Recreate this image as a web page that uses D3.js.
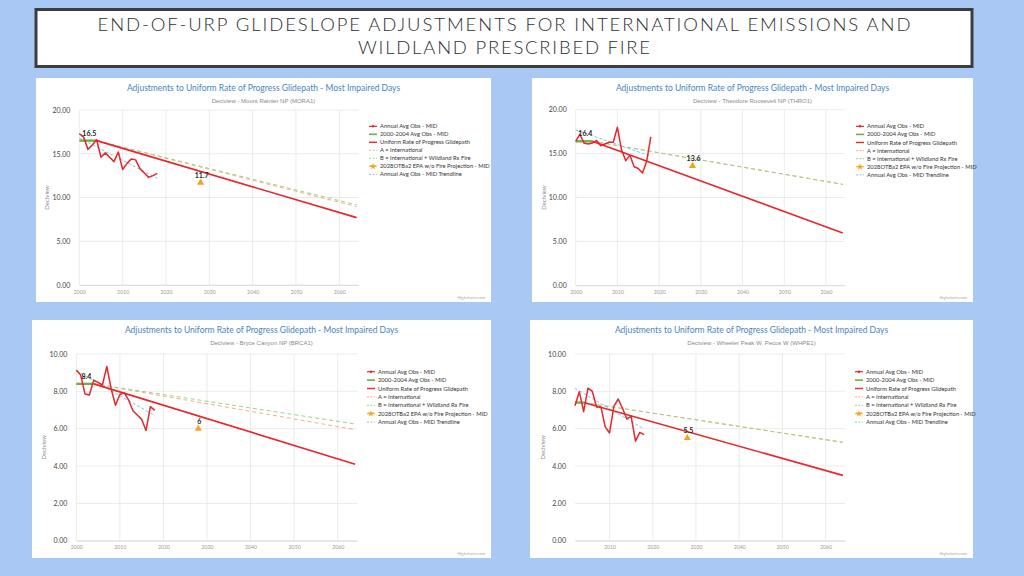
<!DOCTYPE html>
<html><head><meta charset="utf-8">
<script src="https://cdn.jsdelivr.net/npm/d3@7"></script>
<style>html,body{margin:0;padding:0;background:#aac8f4;} svg{display:block}</style>
</head><body>
<svg id="c" width="1024" height="576"></svg>
<script>
// ---------- DATA ----------
const titleLines = ["END-OF-URP GLIDESLOPE ADJUSTMENTS FOR INTERNATIONAL EMISSIONS AND", "WILDLAND PRESCRIBED FIRE"];
const chartTitle = "Adjustments to Uniform Rate of Progress Glidepath - Most Impaired Days";
const subtitles = ["Deciview - Mount Rainier NP (MORA1)", "Deciview - Theodore Roosevelt NP (THRO1)", "Deciview - Bryce Canyon NP (BRCA1)", "Deciview - Wheeler Peak W. Pecos W (WHPE1)"];
const legendLabels = ["Annual Avg Obs - MID", "2000-2004 Avg Obs - MID", "Uniform Rate of Progress Glidepath", "A = International", "B = International + Wildland Rx Fire", "2028OTBa2 EPA w/o Fire Projection - MID", "Annual Avg Obs - MID Trendline"];
const yAxisTitle = "Deciview";
const creditText = "Highcharts.com";

const obsYears  = [2000,2001,2002,2003,2004,2005,2006,2007,2008,2009,2010,2011,2012,2013,2014,2015,2016,2017,2018];
const whpeYears = [2002,2003,2004,2005,2006,2007,2008,2009,2010,2011,2012,2013,2014,2015,2016,2017,2018];
const moraObs = [17.3,16.9,15.5,16.0,16.6,14.6,15.1,14.6,14.1,15.2,13.2,13.9,14.4,14.3,13.3,12.8,12.3,12.5,12.75];
const throObs = [16.4,17.2,16.2,16.1,16.2,16.5,15.9,16.1,16.3,16.3,18.0,15.4,14.2,14.8,13.5,13.3,12.8,14.1,16.9];
const brcaObs = [9.14,8.87,7.86,7.8,8.6,8.48,8.34,9.33,8.14,7.25,7.83,7.92,7.54,6.96,6.73,6.5,5.9,7.18,6.98];
const whpeObs = [7.23,7.98,6.91,8.17,8.0,7.16,7.16,6.1,5.77,7.2,7.59,7.09,6.52,6.66,5.33,5.8,5.68];

const baselineStart = [2000, 2000, 2000, 2002];
const baselineEndYear = 2004;
const baselineValues = [16.5, 16.4, 8.4, 7.4];
const baselineLabels = ["16.5", "16.4", "8.4", null];
const glideEndYear = 2064;
const urpEnd = [7.7, 5.95, 4.1, 3.5];
const intlEnd = [8.95, 11.5, 5.95, 5.27];
const intlFireEnd = [9.15, 11.5, 6.25, 5.27];
const trendEndYear = 2018;
const trendStart = [16.8, 17.7, 9.1, 8.16];
const trendEnd = [12.2, 14.7, 6.7, 5.98];
const projYear = 2028;
const projValues = [11.7, 13.6, 6, 5.5];
const projLabels = ["11.7", "13.6", "6", "5.5"];

const yTicksHigh = [0, 5, 10, 15, 20];
const yTicksLow = [0, 2, 4, 6, 8, 10];
const xTicks = [2000, 2010, 2020, 2030, 2040, 2050, 2060];

// ---------- LAYOUT ----------
const layout = [
  {box:[36,78,491,302],  plot:[79.3,110,358.8,285],   x0:2000, ymax:20, yticks:yTicksHigh, obs:moraObs, years:obsYears,  lx:369},
  {box:[532,78,973,302], plot:[575.7,109.7,844.8,285.3], x0:2000, ymax:20, yticks:yTicksHigh, obs:throObs, years:obsYears, lx:856},
  {box:[32,320,491,558], plot:[76.3,354,357.3,540.7], x0:2000, ymax:10, yticks:yTicksLow, obs:brcaObs, years:obsYears,  lx:367},
  {box:[530,320,973,558],plot:[575,354,845,540.7],     x0:2002, ymax:10, yticks:yTicksLow, obs:whpeObs, years:whpeYears, lx:855}
];
const legendTop = [126.3, 126.3, 371.7, 371.7];
const legendStep = [8, 8.1, 8.4, 8.4];

const C = {red:"#e8262b", green:"#70ad47", orange:"#f4b183", lgreen:"#9fd18a", blue:"#7cc7ea", tri:"#f5a21c",
           grid:"#e6e6e6", title:"#4a84c0", sub:"#8a8a8a"};
const FONT = "Lato, 'Open Sans', sans-serif";

const svg = d3.select("#c");
svg.append("rect").attr("width",1024).attr("height",576).attr("fill","#aac8f4");

// Main title box
svg.append("rect").attr("x",36).attr("y",9.5).attr("width",936).attr("height",57)
  .attr("fill","#fff").attr("stroke","#3d3d3d").attr("stroke-width",3);
const tl = [{t:titleLines[0], y:31, w:813}, {t:titleLines[1], y:54, w:292}];
tl.forEach(d=>{
  svg.append("text").attr("x",504).attr("y",d.y).attr("text-anchor","middle")
    .attr("font-family","Lato, 'Open Sans', sans-serif").attr("font-weight",300)
    .attr("font-size",18.5).attr("fill","#2e2e2e")
    .attr("textLength",d.w).attr("lengthAdjust","spacing").text(d.t);
});

layout.forEach((L,i)=>{
  const g = svg.append("g");
  const [bx0,by0,bx1,by1] = L.box;
  g.append("rect").attr("x",bx0).attr("y",by0).attr("width",bx1-bx0).attr("height",by1-by0).attr("fill","#fff");
  const cx = (bx0+bx1)/2;
  g.append("text").attr("x",cx).attr("y",by0+13).attr("text-anchor","middle")
    .attr("font-family",FONT).attr("font-size",8.5).attr("fill",C.title).text(chartTitle);
  g.append("text").attr("x",cx).attr("y",by0+24.5).attr("text-anchor","middle")
    .attr("font-family","'Liberation Sans', Arial, sans-serif").attr("font-size",6).attr("fill",C.sub).text(subtitles[i]);

  const [px0,py0,px1,py1] = L.plot;
  const x = d3.scaleLinear().domain([L.x0, 2064.5]).range([px0,px1]);
  const y = d3.scaleLinear().domain([0, L.ymax]).range([py1,py0]);

  // grid
  const xt = xTicks.filter(t=>t>=L.x0);
  g.append("g").selectAll("line").data(xt).join("line")
    .attr("x1",d=>x(d)).attr("x2",d=>x(d)).attr("y1",py0).attr("y2",py1)
    .attr("stroke",C.grid).attr("stroke-width",0.8);
  g.append("g").selectAll("line").data(L.yticks).join("line")
    .attr("x1",px0).attr("x2",px1).attr("y1",d=>y(d)).attr("y2",d=>y(d))
    .attr("stroke",C.grid).attr("stroke-width",0.8);

  // axes via d3
  const yAxis = d3.axisLeft(y).tickValues(L.yticks).tickFormat(d3.format(".2f")).tickSize(0).tickPadding(9);
  const ya = g.append("g").attr("transform",`translate(${px0},0)`).call(yAxis);
  ya.select(".domain").remove();
  ya.selectAll("text").attr("font-family",FONT).attr("font-size",7).attr("fill","#444");
  const xAxis = d3.axisBottom(x).tickValues(xt).tickFormat(d3.format("d")).tickSize(0).tickPadding(5);
  const xa = g.append("g").attr("transform",`translate(0,${py1})`).call(xAxis);
  xa.select(".domain").attr("stroke","#d8d8d8").attr("stroke-width",0.8);
  xa.selectAll("text").attr("font-family",FONT).attr("font-size",5.2).attr("fill","#9a9a9a");

  g.append("text").attr("transform",`translate(${px0-30},${(py0+py1)/2}) rotate(-90)`)
    .attr("text-anchor","middle").attr("font-family",FONT).attr("font-size",6).attr("fill","#8a8a8a").text(yAxisTitle);

  const line = d3.line().x(d=>x(d[0])).y(d=>y(d[1]));
  // A, B dashed
  g.append("path").attr("d",line([[baselineEndYear,baselineValues[i]],[glideEndYear,intlEnd[i]]]))
    .attr("fill","none").attr("stroke",C.orange).attr("stroke-width",1).attr("stroke-dasharray","4,3");
  g.append("path").attr("d",line([[baselineEndYear,baselineValues[i]],[glideEndYear,intlFireEnd[i]]]))
    .attr("fill","none").attr("stroke",C.lgreen).attr("stroke-width",1).attr("stroke-dasharray","4,3");
  // trendline
  g.append("path").attr("d",line([[baselineStart[i],trendStart[i]],[trendEndYear,trendEnd[i]]]))
    .attr("fill","none").attr("stroke",C.blue).attr("stroke-width",1).attr("stroke-dasharray","3,2");
  // baseline
  g.append("path").attr("d",line([[baselineStart[i],baselineValues[i]],[baselineEndYear,baselineValues[i]]]))
    .attr("fill","none").attr("stroke",C.green).attr("stroke-width",2.4);
  // URP
  g.append("path").attr("d",line([[baselineEndYear,baselineValues[i]],[glideEndYear,urpEnd[i]]]))
    .attr("fill","none").attr("stroke",C.red).attr("stroke-width",1.6);
  // obs
  g.append("path").attr("d",line(L.years.map((yr,k)=>[yr,L.obs[k]])))
    .attr("fill","none").attr("stroke",C.red).attr("stroke-width",1.5).attr("stroke-linejoin","round");
  // projection
  g.append("path").attr("d",d3.symbol(d3.symbolTriangle,22)())
    .attr("transform",`translate(${x(projYear)},${y(projValues[i])})`).attr("fill",C.tri);
  g.append("text").attr("x",x(projYear)+1).attr("y",y(projValues[i])-5).attr("text-anchor","middle")
    .attr("font-family",FONT).attr("font-weight",700).attr("font-size",7).attr("fill","#222").text(projLabels[i]);
  if (baselineLabels[i]) {
    g.append("text").attr("x",x(2002.3)).attr("y",y(baselineValues[i])-5).attr("text-anchor","middle")
      .attr("font-family",FONT).attr("font-weight",700).attr("font-size",7).attr("fill","#222").text(baselineLabels[i]);
  }

  // legend
  const lg = g.append("g");
  legendLabels.forEach((lab,k)=>{
    const ly = legendTop[i] + k*legendStep[i];
    const sx = L.lx, ex = L.lx+8;
    if (k===0) {
      lg.append("line").attr("x1",sx).attr("x2",ex).attr("y1",ly).attr("y2",ly).attr("stroke",C.red).attr("stroke-width",1.2);
      lg.append("circle").attr("cx",sx+4).attr("cy",ly).attr("r",1.2).attr("fill",C.red);
    } else if (k===1) {
      lg.append("line").attr("x1",sx).attr("x2",ex).attr("y1",ly).attr("y2",ly).attr("stroke",C.green).attr("stroke-width",1.6);
    } else if (k===2) {
      lg.append("line").attr("x1",sx).attr("x2",ex).attr("y1",ly).attr("y2",ly).attr("stroke",C.red).attr("stroke-width",1.4);
    } else if (k===3) {
      lg.append("line").attr("x1",sx).attr("x2",ex).attr("y1",ly).attr("y2",ly).attr("stroke",C.orange).attr("stroke-width",1).attr("stroke-dasharray","2,1.5");
    } else if (k===4) {
      lg.append("line").attr("x1",sx).attr("x2",ex).attr("y1",ly).attr("y2",ly).attr("stroke",C.lgreen).attr("stroke-width",1).attr("stroke-dasharray","2,1.5");
    } else if (k===5) {
      lg.append("line").attr("x1",sx).attr("x2",ex).attr("y1",ly).attr("y2",ly).attr("stroke",C.tri).attr("stroke-width",1);
      lg.append("path").attr("d",d3.symbol(d3.symbolStar,14)()).attr("transform",`translate(${sx+4},${ly})`).attr("fill",C.tri);
    } else {
      lg.append("line").attr("x1",sx).attr("x2",ex).attr("y1",ly).attr("y2",ly).attr("stroke",C.blue).attr("stroke-width",1).attr("stroke-dasharray","2,1.5");
    }
    lg.append("text").attr("x",sx+11).attr("y",ly+2).attr("font-family",FONT).attr("font-size",5.8).attr("fill","#333").text(lab);
  });

  g.append("text").attr("x",bx1-6).attr("y",by1-3).attr("text-anchor","end")
    .attr("font-family",FONT).attr("font-size",4).attr("fill","#aaa").text(creditText);
});
</script>
</body></html>
